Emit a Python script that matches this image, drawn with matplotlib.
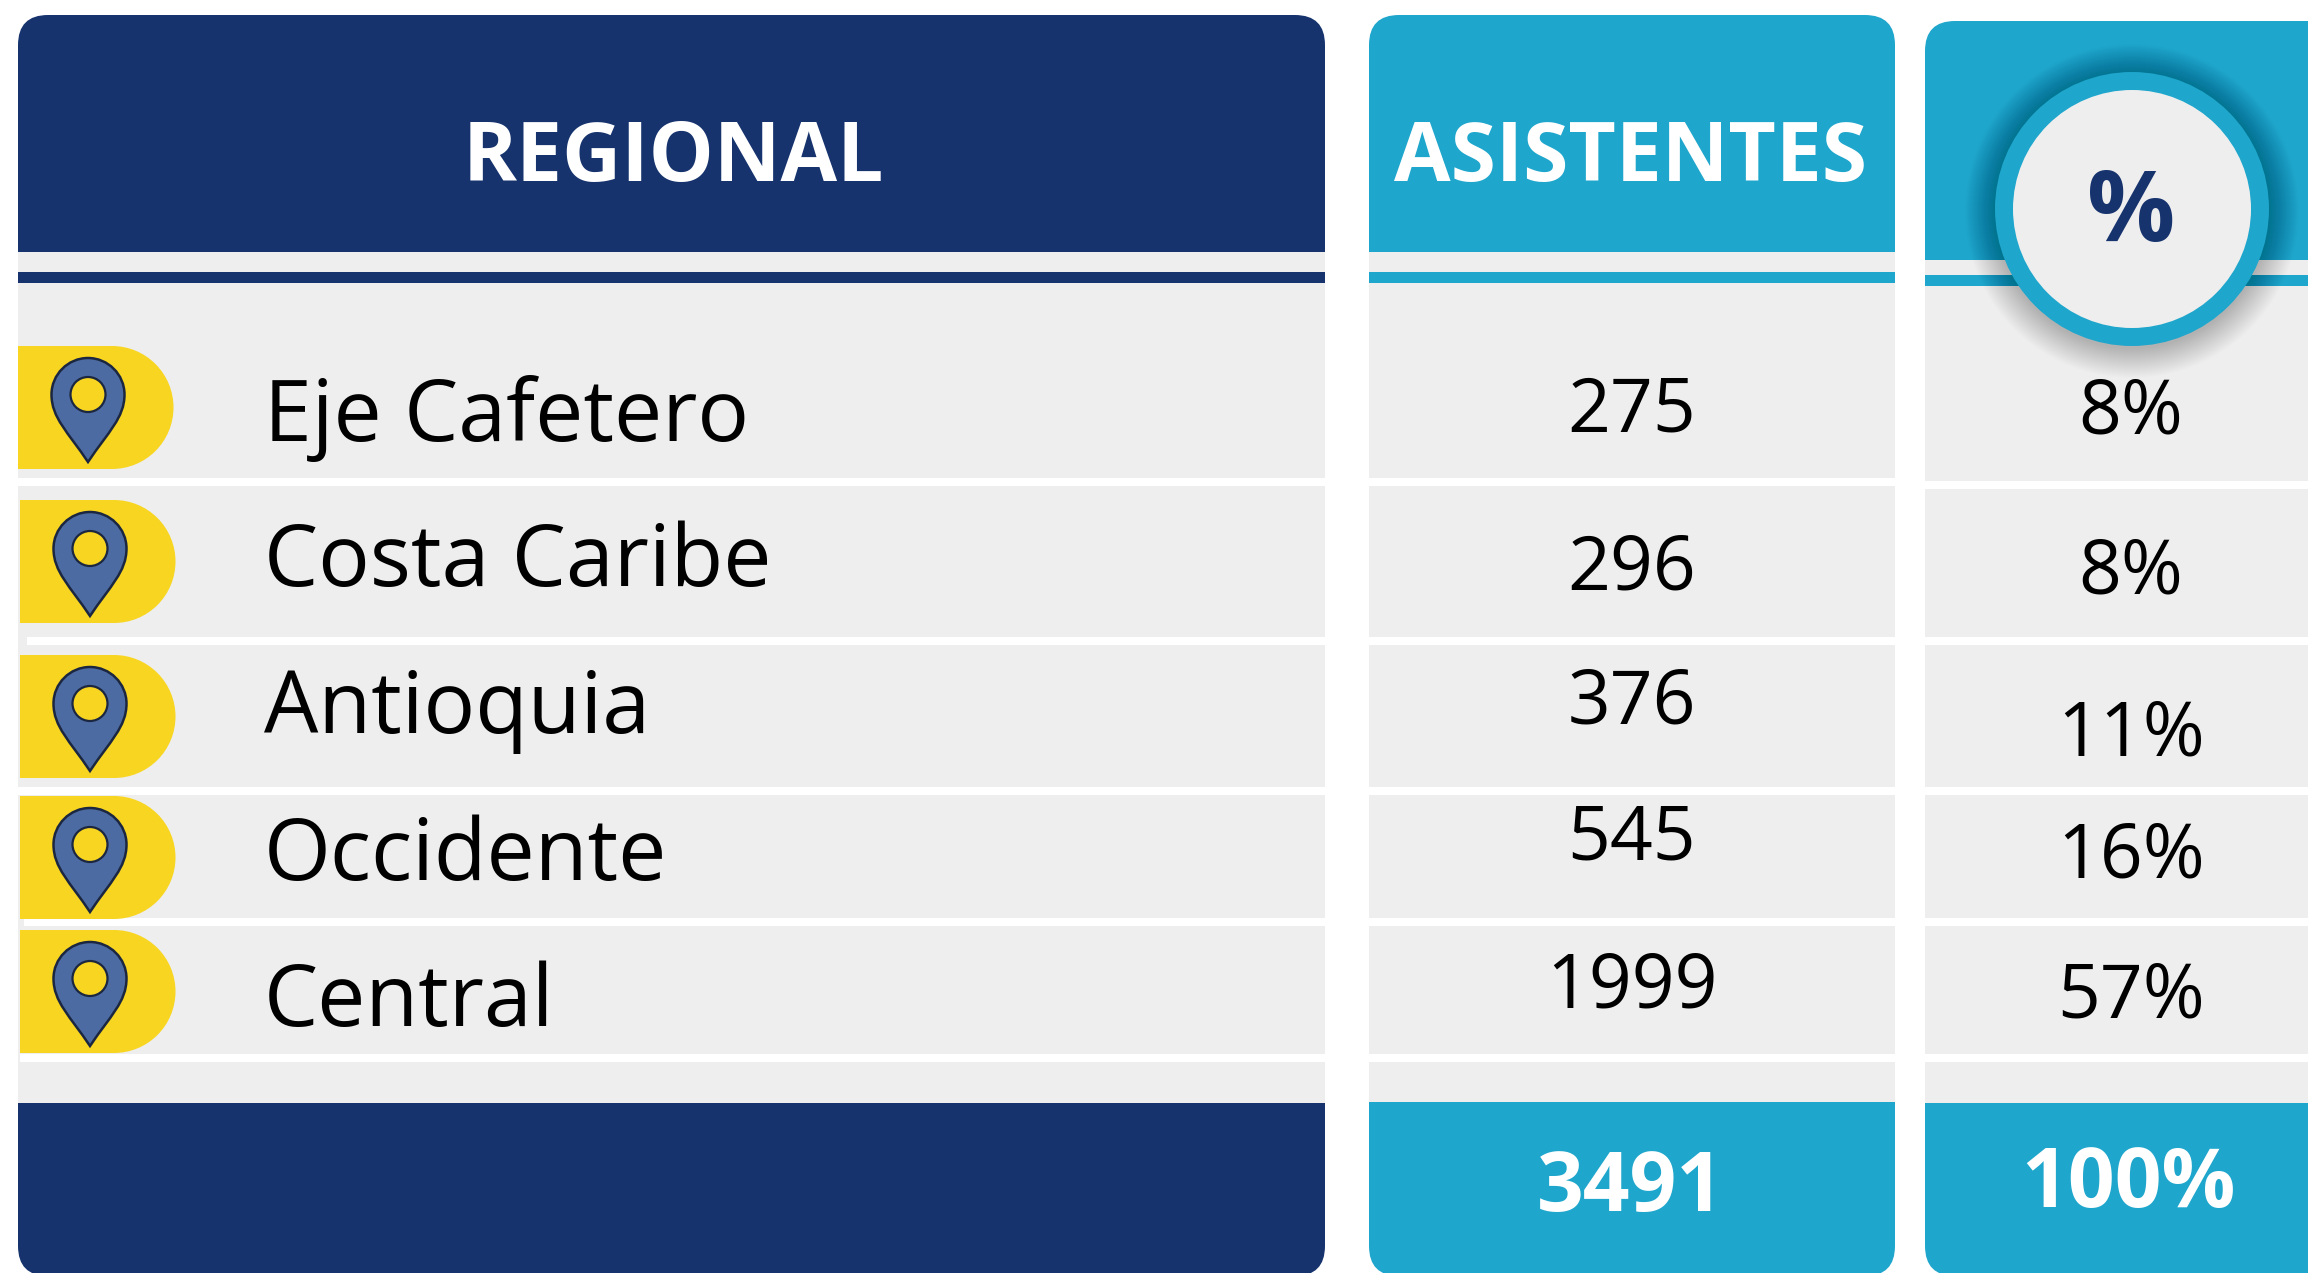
import matplotlib
matplotlib.use('Agg')
import matplotlib.pyplot as plt
from matplotlib.patches import Circle, FancyBboxPatch, PathPatch, Rectangle
from matplotlib.path import Path

# Datos de la tabla
regionales = ['Eje Cafetero', 'Costa Caribe', 'Antioquia', 'Occidente', 'Central']
asistentes = [275, 296, 376, 545, 1999]
porcentajes = ['8%', '8%', '11%', '16%', '57%']
total_asistentes = 3491
total_porcentaje = '100%'

# Colores
AZUL = '#16336E'
CIAN = '#1FA6CC'
GRIS = '#EEEEEE'
AMARILLO = '#F8D521'
PIN = '#4D6BA3'
BORDE_PIN = '#1B2740'

plt.rcParams['font.family'] = ['Open Sans', 'DejaVu Sans']

fig = plt.figure(figsize=(23.08, 12.73), dpi=100)
ax = fig.add_axes([0, 0, 1, 1])
ax.set_xlim(0, 2308)
ax.set_ylim(1273, 0)
ax.axis('off')

# Layout en pixeles de la imagen
base_regional = [441, 586, 733, 880, 1026]
base_asist = [431, 590, 724, 860, 1008]
base_pct = [434, 593, 755, 878, 1017]
pill_top = [346, 500, 655, 796, 930]
pill_left = [18, 20, 20, 20, 20]
gap_y = [478, 637, 787, 918, 1054]
gap_left = [18, 27, 18, 24, 20]


def px(size):
    return size * 0.72


def caja(x0, x1, y0, y1, color, clip_y0, clip_y1, z=1):
    # caja redondeada recortada para dejar solo las esquinas de un lado
    r = 30
    p = FancyBboxPatch((x0 + r, y0 + r), x1 - x0 - 2 * r, y1 - y0 - 2 * r,
                       boxstyle='round,pad=%d,rounding_size=%d' % (r, r),
                       fc=color, ec='none', zorder=z)
    ax.add_patch(p)
    p.set_clip_path(Rectangle((x0, clip_y0), x1 - x0, clip_y1 - clip_y0, transform=ax.transData))


def pin(cx, top):
    h = 104
    w = 36.5
    cy = top + w
    verts = [(cx, top + h),
             (cx - 20, top + h - 30), (cx - w, top + 60), (cx - w, cy),
             (cx - w, cy - 20), (cx - 20, top), (cx, top),
             (cx + 20, top), (cx + w, cy - 20), (cx + w, cy),
             (cx + w, top + 60), (cx + 20, top + h - 30), (cx, top + h),
             (cx, top + h)]
    codes = [Path.MOVETO] + [Path.CURVE4] * 12 + [Path.CLOSEPOLY]
    ax.add_patch(PathPatch(Path(verts, codes), fc=PIN, ec=BORDE_PIN, lw=1.8, joinstyle='miter', zorder=5))
    ax.add_patch(Circle((cx, cy), 17.5, fc=AMARILLO, ec=BORDE_PIN, lw=1.6, zorder=6))


# Columnas: x0, x1, y arriba, fin encabezado, banda, pie
columnas = [
    (18, 1325, 15, 252, 272, 283, 1103, AZUL),
    (1369, 1895, 15, 252, 272, 283, 1102, CIAN),
    (1925, 2340, 21, 260, 275, 286, 1103, CIAN),
]
for x0, x1, top, fin, b0, b1, pie, color in columnas:
    ax.add_patch(Rectangle((x0, fin), x1 - x0, pie - fin, fc=GRIS, ec='none', zorder=1))
    caja(x0, x1, top, top + 300, color, top, fin, z=2)
    ax.add_patch(Rectangle((x0, b0), x1 - x0, b1 - b0, fc=color, ec='none', zorder=2))
    caja(x0, x1, pie - 200, 1276, color, pie, 1273, z=2)

# Lineas blancas entre filas
for i in range(5):
    ax.add_patch(Rectangle((gap_left[i], gap_y[i]), 1325 - gap_left[i], 8, fc='white', ec='none', zorder=2))
    ax.add_patch(Rectangle((1369, gap_y[i]), 526, 8, fc='white', ec='none', zorder=2))
    ax.add_patch(Rectangle((1925, gap_y[i] + (3 if i < 1 else 0)), 400, 8, fc='white', ec='none', zorder=2))

# Filas
for i, nombre in enumerate(regionales):
    t = pill_top[i]
    l = pill_left[i]
    ax.add_patch(Rectangle((l, t), 94, 123, fc=AMARILLO, ec='none', zorder=3))
    ax.add_patch(Circle((l + 94, t + 61.5), 61.5, fc=AMARILLO, ec='none', zorder=3))
    pin(l + 70, t + 12)
    ax.text(264, base_regional[i], nombre, fontsize=px(86), color='black', va='baseline', ha='left', zorder=6)
    ax.text(1632, base_asist[i], str(asistentes[i]), fontsize=px(75), color='black', va='baseline', ha='center', zorder=6)
    ax.text(2131, base_pct[i], porcentajes[i], fontsize=px(75), color='black', va='baseline', ha='center', zorder=6)

# Encabezados
ax.text(673, 181, 'REGIONAL', fontsize=px(82), fontweight='bold', color='white', va='baseline', ha='center', zorder=6)
ax.text(1631, 181, 'ASISTENTES', fontsize=px(82), fontweight='bold', color='white', va='baseline', ha='center', zorder=6)

# Circulo del %, con sombra difusa
for k in range(30):
    ax.add_patch(Circle((2132, 211), 167 - k, fc='black', ec='none', alpha=0.006, zorder=3))
ax.add_patch(Circle((2132, 209), 137, fc=CIAN, ec='none', zorder=4))
ax.add_patch(Circle((2132, 209), 119, fc=GRIS, ec='none', zorder=5))
ax.text(2131, 241, '%', fontsize=px(98), fontweight='bold', color=AZUL, va='baseline', ha='center', zorder=6)

# Totales
ax.text(1630, 1211, str(total_asistentes), fontsize=px(82), fontweight='bold', color='white', va='baseline', ha='center', zorder=6)
ax.text(2128, 1207, total_porcentaje, fontsize=px(82), fontweight='bold', color='white', va='baseline', ha='center', zorder=6)

fig.savefig('out.png', dpi=100, facecolor='white')
